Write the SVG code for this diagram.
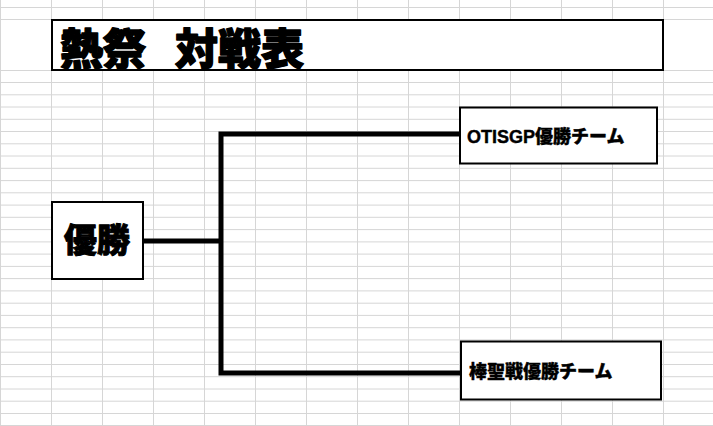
<svg xmlns="http://www.w3.org/2000/svg" width="713" height="426" viewBox="0 0 713 426">
<defs>
<style>
.grid line{stroke:#d6d6d6;stroke-width:1}
.box{fill:#fff;stroke:#000;stroke-width:2}
.conn{fill:none;stroke:#000;stroke-width:5;stroke-linejoin:miter}
.t{font-family:"Liberation Sans","Noto Sans CJK JP",sans-serif;font-weight:900;fill:#000;stroke:#000;stroke-linejoin:round}
</style>
</defs>
<rect width="713" height="426" fill="#fff"/>
<g id="grid" class="grid">
<line x1="0.5" y1="0" x2="0.5" y2="426"/>
<line x1="51.5" y1="0" x2="51.5" y2="426"/>
<line x1="102.5" y1="0" x2="102.5" y2="426"/>
<line x1="153.5" y1="0" x2="153.5" y2="426"/>
<line x1="204.5" y1="0" x2="204.5" y2="426"/>
<line x1="255.5" y1="0" x2="255.5" y2="426"/>
<line x1="306.5" y1="0" x2="306.5" y2="426"/>
<line x1="357.5" y1="0" x2="357.5" y2="426"/>
<line x1="408.5" y1="0" x2="408.5" y2="426"/>
<line x1="459.5" y1="0" x2="459.5" y2="426"/>
<line x1="510.5" y1="0" x2="510.5" y2="426"/>
<line x1="561.5" y1="0" x2="561.5" y2="426"/>
<line x1="612.5" y1="0" x2="612.5" y2="426"/>
<line x1="663.5" y1="0" x2="663.5" y2="426"/>
<line x1="0" y1="7.5" x2="713" y2="7.5"/>
<line x1="0" y1="19.5" x2="713" y2="19.5"/>
<line x1="0" y1="70.5" x2="713" y2="70.5"/>
<line x1="0" y1="82.5" x2="713" y2="82.5"/>
<line x1="0" y1="94.8" x2="713" y2="94.8"/>
<line x1="0" y1="107" x2="713" y2="107"/>
<line x1="0" y1="119.3" x2="713" y2="119.3"/>
<line x1="0" y1="131.5" x2="713" y2="131.5"/>
<line x1="0" y1="143.8" x2="713" y2="143.8"/>
<line x1="0" y1="156" x2="713" y2="156"/>
<line x1="0" y1="168.3" x2="713" y2="168.3"/>
<line x1="0" y1="180.6" x2="713" y2="180.6"/>
<line x1="0" y1="192.8" x2="713" y2="192.8"/>
<line x1="0" y1="205.1" x2="713" y2="205.1"/>
<line x1="0" y1="217.3" x2="713" y2="217.3"/>
<line x1="0" y1="229.6" x2="713" y2="229.6"/>
<line x1="0" y1="241.9" x2="713" y2="241.9"/>
<line x1="0" y1="254.1" x2="713" y2="254.1"/>
<line x1="0" y1="266.4" x2="713" y2="266.4"/>
<line x1="0" y1="278.6" x2="713" y2="278.6"/>
<line x1="0" y1="290.9" x2="713" y2="290.9"/>
<line x1="0" y1="303.2" x2="713" y2="303.2"/>
<line x1="0" y1="315.4" x2="713" y2="315.4"/>
<line x1="0" y1="327.7" x2="713" y2="327.7"/>
<line x1="0" y1="339.9" x2="713" y2="339.9"/>
<line x1="0" y1="352.2" x2="713" y2="352.2"/>
<line x1="0" y1="364.5" x2="713" y2="364.5"/>
<line x1="0" y1="376.7" x2="713" y2="376.7"/>
<line x1="0" y1="389" x2="713" y2="389"/>
<line x1="0" y1="401.2" x2="713" y2="401.2"/>
<line x1="0" y1="413.5" x2="713" y2="413.5"/>
<line x1="0" y1="425.5" x2="713" y2="425.5"/>
</g>
<g id="title">
<rect class="box" x="52" y="20" width="611" height="50"/>
<text class="t" x="60" y="65" font-size="43" stroke-width="1.4">熱祭 <tspan x="175">対戦表</tspan></text>
</g>
<g id="connectors">
<path class="conn" d="M143 241 H221"/>
<path class="conn" d="M459 134 H221 V373 H460"/>
</g>
<g id="winner">
<rect class="box" x="52" y="202" width="91" height="77"/>
<text class="t" x="64" y="252" font-size="33" stroke-width="1">優勝</text>
</g>
<g id="team1">
<rect class="box" x="460" y="107.5" width="197" height="56"/>
<text class="t" x="467" y="143" font-size="18" stroke-width="0.4">OTISGP優勝チーム</text>
</g>
<g id="team2">
<rect class="box" x="461" y="341.5" width="200" height="58"/>
<text class="t" x="469" y="378" font-size="18" stroke-width="0.4">棒聖戦優勝チーム</text>
</g>
</svg>
